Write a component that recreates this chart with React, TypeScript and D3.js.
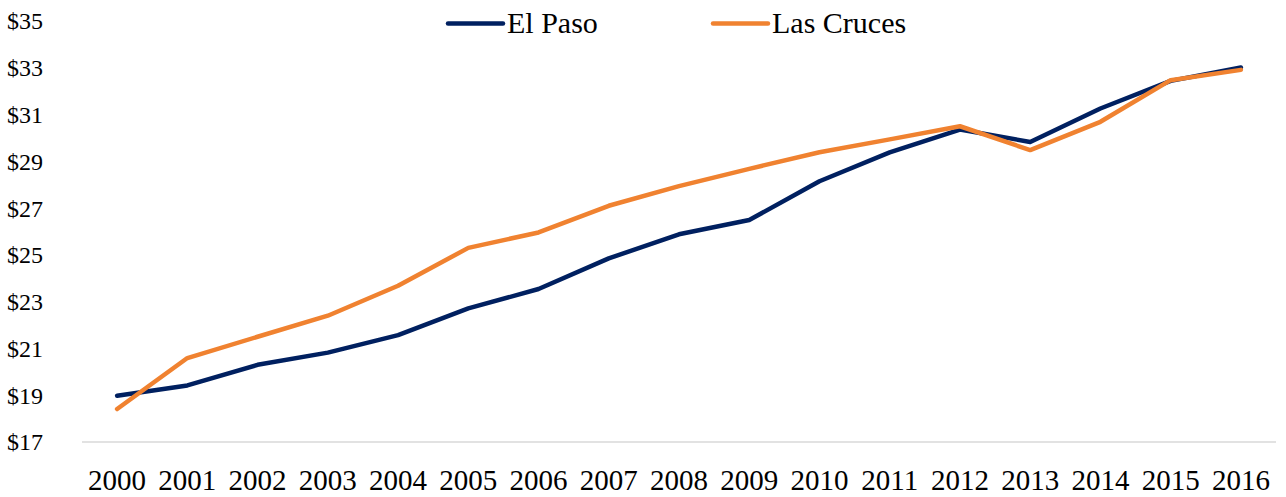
import React from "react";
import * as d3 from "d3";

const years = ["2000","2001","2002","2003","2004","2005","2006","2007","2008","2009","2010","2011","2012","2013","2014","2015","2016"];
const elPaso = [18.98, 19.42, 20.30, 20.82, 21.57, 22.71, 23.54, 24.85, 25.88, 26.49, 28.15, 29.38, 30.36, 29.83, 31.26, 32.44, 33.01];
const lasCruces = [18.41, 20.59, 21.50, 22.40, 23.68, 25.30, 25.96, 27.10, 27.94, 28.68, 29.39, 29.94, 30.50, 29.48, 30.69, 32.47, 32.91];
const yTicks = [17, 19, 21, 23, 25, 27, 29, 31, 33, 35];
const seriesNames = ["El Paso", "Las Cruces"];
const colors = ["#002060", "#F08230"];

const W = 1286, H = 497;
const FONT = "'Liberation Serif', 'Times New Roman', serif";

export default function App() {
  const x = d3.scalePoint<string>().domain(years).range([82, 1276]).padding(0.5);
  const y = d3.scaleLinear().domain([17, 35]).range([442, 21]);
  const line = d3.line<number>().x((_, i) => x(years[i]) as number).y(d => y(d));
  const series = [elPaso, lasCruces];
  const legendX = [448, 713];
  return (
    <svg width={W} height={H} style={{ position: "absolute", left: 0, top: 0, background: "#fff" }}>
      <line x1={82} x2={1276} y1={y(17)} y2={y(17)} stroke="#d9d9d9" strokeWidth={1.5} />
      {yTicks.map(t => (
        <text key={t} x={43} y={y(t)} dy="0.35em" textAnchor="end" fontFamily={FONT} fontSize={24} fill="#000">
          {"$" + t}
        </text>
      ))}
      {years.map(yr => (
        <text key={yr} x={x(yr)} y={490} textAnchor="middle" fontFamily={FONT} fontSize={29} fill="#000">
          {yr}
        </text>
      ))}
      {series.map((s, i) => (
        <path key={i} d={line(s) || ""} fill="none" stroke={colors[i]} strokeWidth={4.5} strokeLinejoin="round" strokeLinecap="round" />
      ))}
      {seriesNames.map((n, i) => (
        <g key={n}>
          <line x1={legendX[i]} x2={legendX[i] + 55} y1={23.5} y2={23.5} stroke={colors[i]} strokeWidth={4.5} strokeLinecap="round" />
          <text x={legendX[i] + 59} y={33} fontFamily={FONT} fontSize={30} fill="#000">{n}</text>
        </g>
      ))}
    </svg>
  );
}
